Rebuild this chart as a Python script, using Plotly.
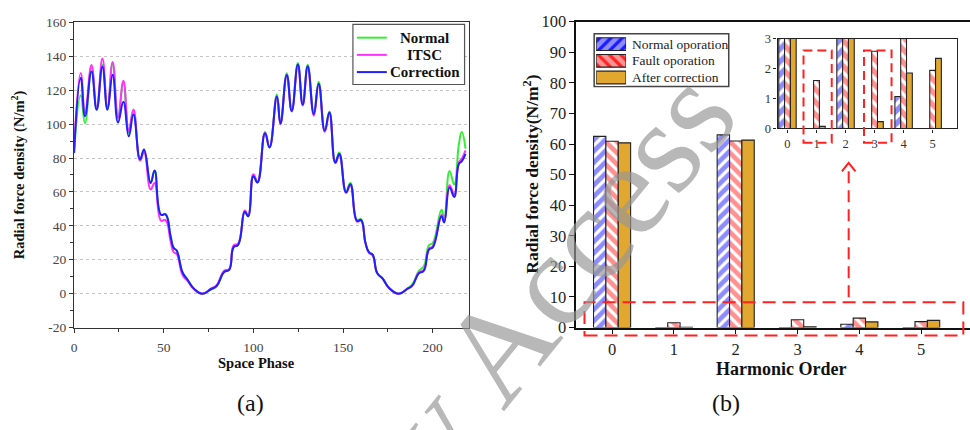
import plotly.graph_objects as go

# ---------------- Panel (a) data ----------------
space_phase = [0, 3.7, 6.1, 9.7, 12.6, 15.8, 18.6, 21.5, 24.5, 27.5, 30.5, 33.1, 36.8, 39.0,
               42.7, 44.9, 48.5, 51.0, 53.8, 55.5, 57.2, 60.5, 63.3, 67.0, 71.6, 76.3, 79.5,
               83.7, 86.5, 89.0, 91.5, 95.2, 97.1, 100.0, 102.3, 106.5, 109.0, 113.1, 115.1,
               118.6, 121.4, 124.8, 127.5, 130.3, 133.7, 136.4, 139.8, 142.4, 145.7, 147.9,
               151.7, 154.1, 157.8, 160.0, 162.5, 164.5, 166.5, 169.1, 172.0, 175.6, 181.1,
               185.8, 188.6, 192.3, 195.0, 197.9, 200.1, 204.9, 206.4, 209.4, 212.0, 214.6,
               216.2, 218.3]
normal = [83, 117, 100.5, 133.5, 108.5, 135, 109, 135.5, 104, 124.5, 95, 107.5, 78.5, 84.5,
          65.5, 72.5, 46.5, 46.8, 34, 27, 25.5, 12.5, 8.2, 2.8, 0, 2.6, 4.5,
          12.8, 14, 27.5, 28.8, 48.5, 45.7, 70, 65.5, 95.3, 86.5, 117.5, 100.5,
          130, 108, 136, 112, 135, 106.5, 125, 96.5, 107.5, 78, 83.2,
          60.5, 65.3, 43.5, 44, 30, 24.3, 23, 12, 9, 3.6, 0,
          3, 5.5, 13.5, 16, 28.5, 30, 49.5, 44.8, 72.4, 64.5, 88,
          95.3, 85.6]
itsc = [86, 130.1, 106.6, 134.8, 109.4, 138.7, 109.4, 136.7, 103.8, 125.6, 96.4, 108.6, 78.6, 83.5,
        61.5, 65.3, 43, 43.4, 31, 24.5, 23.5, 11, 7.5, 2.5, 0, 3, 5,
        13.5, 14.5, 28.5, 29.5, 49, 46, 70.5, 66, 94.8, 86.2, 116.3, 100,
        128.5, 107.5, 134.5, 111, 133.5, 105, 123.5, 95.5, 106.5, 77, 82,
        59.5, 64, 42.5, 43, 30, 24, 22.5, 12, 9, 3.4, 0,
        2.8, 4.7, 12.5, 14, 26.5, 28, 46.5, 42.5, 64, 58.5, 77.5,
        79.5, 84.5]
correction = [83, 127.3, 104.7, 131, 108.5, 133.8, 108.5, 129.1, 101, 113.2, 92.9, 105.6, 79.3, 85,
              65.2, 72.7, 46.5, 46.8, 34, 27, 25.5, 12.5, 8.2, 2.8, 0, 2.6, 4.5,
              12.8, 14, 27.5, 28.8, 48.3, 45.7, 69.2, 65.5, 94.6, 86.2, 116.3, 100.3,
              128.9, 107.8, 135.1, 111.5, 134.1, 105.9, 123.8, 96.1, 106.8, 77.3, 82.4,
              59.8, 64.5, 42.9, 43.5, 30, 24.3, 23, 12, 9, 3.4, 0,
              2.8, 4.7, 12, 13.4, 26, 27.3, 45.7, 42, 62.6, 57, 76.5,
              78, 82.4]
a_names = ["Normal", "ITSC", "Correction"]
a_xticks = [0, 50, 100, 150, 200]
a_yticks = [-20, 0, 20, 40, 60, 80, 100, 120, 140, 160]
a_yticktext = ["-20", "0", "20", "40", "60", "80", "100", "120", "140", "160"]

# ---------------- Panel (b) data ----------------
harmonic_order = [0, 1, 2, 3, 4, 5]
normal_op = [62.5, 0, 63.0, 0, 1.07, 0]
fault_op = [60.9, 1.6, 61.0, 2.58, 3.1, 1.94]
after_corr = [60.4, 0.07, 61.3, 0.23, 1.85, 2.34]
b_names = ["Normal oporation", "Fault oporation", "After correction"]

W, H = 970, 430
def fx(px): return px / W
def fy(py): return 1 - py / H

SERIF = "'Liberation Serif', 'Times New Roman', Tinos, 'DejaVu Serif', serif"
GREEN, MAGENTA, BLUE = "#33EE33", "#FF33FF", "#2020FF"
BBLUE, BRED, BORANGE = "#1a1aff", "#ff2424", "#E2A72E"
line_cols = [GREEN, MAGENTA, BLUE]

fig = go.Figure()

for name, ys, col in zip(a_names, [normal, itsc, correction], line_cols):
    fig.add_trace(go.Scatter(x=space_phase, y=ys, mode="lines", name=name, showlegend=False,
                             line=dict(color=col, width=2, shape="spline", smoothing=1.3),
                             xaxis="x", yaxis="y"))

specs = [(normal_op, "/", BBLUE), (fault_op, "\\", BRED), (after_corr, "", BORANGE)]
for (vals, shp, col), nm in zip(specs, b_names):
    for xa, ya, size in [("x2", "y2", 8), ("x3", "y3", 9)]:
        marker = dict(color=col, line=dict(color="#222", width=1.1))
        if shp:
            marker["pattern"] = dict(shape=shp, fgcolor=col, bgcolor="white", size=size, solidity=0.6)
        fig.add_trace(go.Bar(x=harmonic_order, y=vals, name=nm, showlegend=False,
                             xaxis=xa, yaxis=ya, marker=marker))

# legend swatches for panel (b)
fig.add_trace(go.Bar(y=[0, 1, 2], x=[1, 1, 1], orientation="h", width=0.76, showlegend=False,
                     xaxis="x4", yaxis="y4",
                     marker=dict(color=[BBLUE, BRED, BORANGE], line=dict(color="#222", width=1.2),
                                 pattern=dict(shape=["/", "\\", ""], fgcolor=[BBLUE, BRED, BORANGE],
                                              bgcolor="white", size=8, solidity=0.6))))

tickfont_a = dict(family=SERIF, size=13.5, color="#444")
tickfont_b = dict(family=SERIF, size=16.5, color="#222")

fig.update_layout(
    width=W, height=H, margin=dict(l=0, r=0, t=0, b=0),
    paper_bgcolor="white", plot_bgcolor="white", showlegend=False,
    font=dict(family=SERIF, color="#222"),
    barmode="group", bargap=0.4, bargroupgap=0,
    xaxis=dict(domain=[fx(71.3), fx(467)], range=[0, 220], anchor="y", showline=True,
               linecolor="#333", linewidth=1.3, mirror=True, ticks="outside", ticklen=4,
               tickcolor="#333", tickvals=a_xticks, tickfont=tickfont_a, showgrid=False,
               ticklabelstandoff=3, zeroline=False,
               minor=dict(dtick=25, ticks="outside", ticklen=3, tickcolor="#333")),
    yaxis=dict(domain=[fy(333.3), fy(14)], range=[-20, 160], anchor="x", showline=True,
               linecolor="#333", linewidth=1.3, mirror=True, ticks="outside", ticklen=4,
               tickcolor="#333", tickvals=a_yticks, ticktext=a_yticktext, tickfont=tickfont_a,
               showgrid=True, gridcolor="#c4c4c4", griddash="dot", gridwidth=1, zeroline=False,
               minor=dict(dtick=10, ticks="outside", ticklen=3, tickcolor="#333", showgrid=False)),
    xaxis2=dict(domain=[fx(575), 1.0], range=[-0.58, 5.79], anchor="y2", showline=True,
                linecolor="#111", linewidth=1.5, mirror=True, ticks="outside", ticklen=5,
                tickcolor="#111", tickvals=harmonic_order, tickfont=tickfont_b, showgrid=False,
                ticklabelstandoff=1, zeroline=False),
    yaxis2=dict(domain=[fy(333.3), fy(13.3)], range=[0, 100], anchor="x2", showline=True,
                linecolor="#111", linewidth=1.5, ticks="outside", ticklen=5, tickcolor="#111",
                dtick=10, tickfont=tickfont_b, showgrid=False, zeroline=False),
    xaxis3=dict(domain=[fx(777), fx(957)], range=[-0.34, 5.84], anchor="y3", showline=True,
                linecolor="#222", linewidth=1.2, mirror=True, ticks="outside", ticklen=3,
                tickcolor="#222", tickvals=harmonic_order, tickfont=dict(family=SERIF, size=12.5, color="#333"),
                showgrid=False, zeroline=False),
    yaxis3=dict(domain=[fy(125), fy(31)], range=[0, 3], anchor="x3", showline=True,
                linecolor="#222", linewidth=1.2, mirror=True, ticks="outside", ticklen=3,
                tickcolor="#222", dtick=1, tickfont=dict(family=SERIF, size=12.5, color="#333"),
                showgrid=False, zeroline=False),
    xaxis4=dict(domain=[fx(595), fx(625)], range=[0, 1], anchor="y4", visible=False),
    yaxis4=dict(domain=[fy(80.5), fy(28)], range=[2.5, -0.5], anchor="x4", visible=False),
)

shapes = []
RED = "#FF2020"
# legend box (a) with line samples
shapes.append(dict(type="rect", xref="paper", yref="paper", x0=fx(351), x1=fx(463), y0=fy(79), y1=fy(16),
                   line=dict(color="#555", width=1.2), fillcolor="white"))
for i, col in enumerate(line_cols):
    yy = 30 + 18 * i
    shapes.append(dict(type="line", xref="paper", yref="paper", x0=fx(355), x1=fx(385), y0=fy(yy), y1=fy(yy),
                       line=dict(color=col, width=2)))
# legend box (b)
shapes.append(dict(type="rect", xref="paper", yref="paper", x0=fx(593), x1=fx(728), y0=fy(81), y1=fy(26),
                   line=dict(color="#444", width=1.5), layer="below"))
# dashed highlight rectangles and arrow
shapes.append(dict(type="rect", xref="paper", yref="paper", x0=fx(583.3), x1=fx(963.3), y0=fy(341.7), y1=fy(306.7),
                   line=dict(color=RED, width=2, dash="13px,7px")))
for x0, x1 in [(803, 831.3), (863.7, 891.3)]:
    shapes.append(dict(type="rect", xref="paper", yref="paper", x0=fx(x0), x1=fx(x1), y0=fy(140), y1=fy(43.3),
                       line=dict(color=RED, width=2, dash="9px,5px")))
shapes.append(dict(type="line", xref="paper", yref="paper", x0=fx(848.3), x1=fx(848.3), y0=fy(301.7), y1=fy(162),
                   line=dict(color=RED, width=2, dash="12px,7px")))
shapes.append(dict(type="path", xref="paper", yref="paper",
                   path="M %f,%f L %f,%f L %f,%f" % (fx(841.5), fy(170), fx(848.3), fy(161), fx(855.1), fy(170)),
                   line=dict(color=RED, width=2)))

def ann(x, y, text, size, angle=0, color="#111", xanchor="center"):
    return dict(x=fx(x), y=fy(y), xref="paper", yref="paper", text=text, showarrow=False,
                xanchor=xanchor, yanchor="middle", textangle=angle,
                font=dict(family=SERIF, size=size, color=color))

annotations = []
for i, nm in enumerate(a_names):
    annotations.append(ann(423, 30 + 18 * i, "<b>%s</b>" % nm, 15, color="#111"))
for i, nm in enumerate(b_names):
    annotations.append(ann(629, 36.7 + 17.5 * i, nm, 13.5, color="#222", xanchor="left"))
annotations += [
    ann(254, 370, "<b>Space Phase</b>", 14.5),
    ann(15, 173, "<b>Radial force density (N/m<sup>2</sup>)</b>", 14.5, angle=-90),
    ann(780, 377, "<b>Harmonic Order</b>", 18),
    ann(530, 173, "<b>Radial force density(N/m<sup>2</sup>)</b>", 17.5, angle=-90),
    ann(248, 412, "(a)", 24),
    ann(725, 412, "(b)", 24),
    ann(487, 366, "Early Access", 134, angle=-51, color="rgba(150,150,150,0.68)"),
]

fig.update_layout(shapes=shapes, annotations=annotations)
fig.write_html("out.html", config={"displayModeBar": False})
